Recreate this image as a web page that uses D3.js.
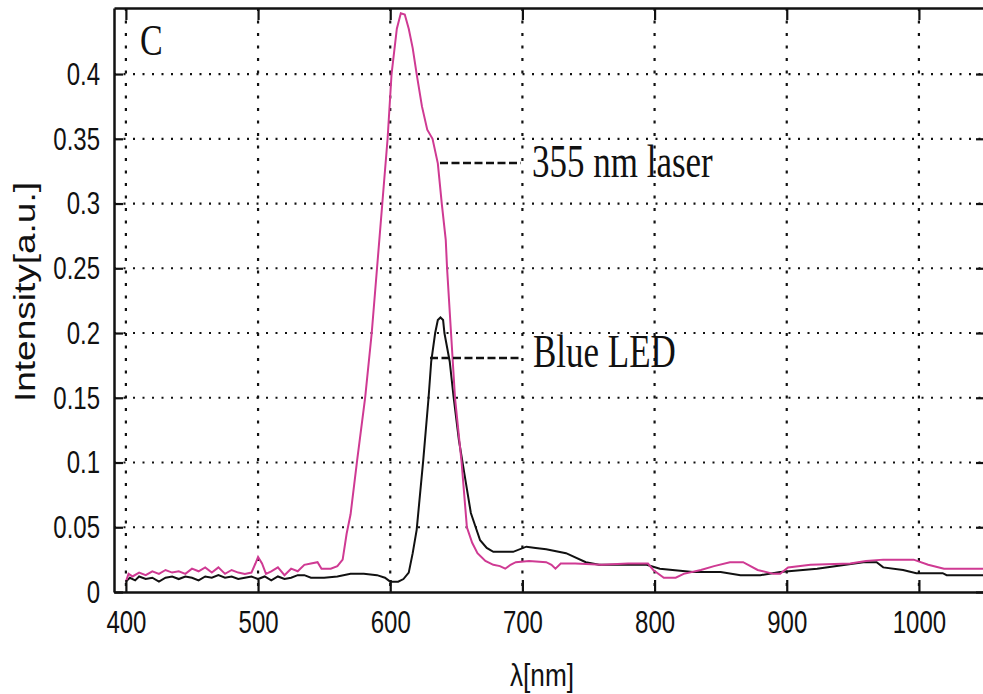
<!DOCTYPE html>
<html>
<head>
<meta charset="utf-8">
<script src="https://cdn.jsdelivr.net/npm/d3@7"></script>
<style>
  body { margin: 0; background: #fff; }
  svg { display: block; }
</style>
</head>
<body>
<svg id="drawspace" width="983" height="694"></svg>
<script>
// data (wavelength in nm, intensity in a.u.)
let laserWl = [400, 402, 405, 410, 415, 420, 425, 430, 435, 440, 445, 450, 455, 460, 465, 470, 475, 480, 485, 490, 495, 498, 500, 503, 506, 510, 515, 520, 525, 530, 535, 540, 545, 548, 555, 560, 564, 567, 570, 575, 581, 586, 590, 594, 598, 601, 605, 608, 611, 614, 617, 620, 624, 628, 632, 636, 639, 642, 643, 646, 649, 654, 658, 662, 666, 672, 678, 683, 687, 691, 695, 705, 718, 722, 725, 729, 740, 760, 780, 795, 799, 807, 816, 822, 835, 845, 857, 867, 878, 890, 895, 901, 918, 948, 960, 973, 996, 1007, 1019, 1050];
let laserInt = [0.008, 0.014, 0.012, 0.015, 0.013, 0.016, 0.014, 0.017, 0.015, 0.016, 0.014, 0.018, 0.016, 0.019, 0.015, 0.019, 0.014, 0.017, 0.015, 0.014, 0.015, 0.022, 0.027, 0.022, 0.014, 0.016, 0.019, 0.013, 0.018, 0.016, 0.021, 0.022, 0.023, 0.018, 0.018, 0.020, 0.025, 0.045, 0.060, 0.102, 0.150, 0.200, 0.250, 0.300, 0.350, 0.400, 0.435, 0.447, 0.446, 0.435, 0.420, 0.400, 0.375, 0.357, 0.350, 0.331, 0.300, 0.272, 0.250, 0.200, 0.150, 0.100, 0.050, 0.038, 0.030, 0.024, 0.021, 0.020, 0.018, 0.021, 0.023, 0.024, 0.023, 0.021, 0.018, 0.022, 0.022, 0.021, 0.022, 0.022, 0.017, 0.011, 0.011, 0.014, 0.017, 0.020, 0.023, 0.023, 0.017, 0.014, 0.014, 0.019, 0.021, 0.022, 0.024, 0.025, 0.025, 0.021, 0.018, 0.018];

let ledWl = [400, 403, 407, 410, 415, 420, 425, 430, 435, 440, 445, 450, 455, 460, 465, 470, 475, 480, 485, 490, 495, 500, 505, 510, 515, 520, 525, 530, 535, 540, 550, 560, 570, 580, 590, 596, 600, 606, 610, 614, 617, 620, 625, 629, 631, 634, 636, 638, 640, 641, 645, 648, 652, 656, 661, 668, 673, 678, 693, 703, 710, 718, 733, 748, 758, 794, 804, 829, 850, 865, 880, 895, 923, 958, 968, 973, 988, 998, 1018, 1021, 1050];
let ledInt = [0.008, 0.011, 0.009, 0.012, 0.010, 0.011, 0.008, 0.011, 0.012, 0.010, 0.012, 0.011, 0.009, 0.012, 0.011, 0.013, 0.011, 0.012, 0.010, 0.011, 0.012, 0.010, 0.012, 0.009, 0.012, 0.010, 0.011, 0.013, 0.013, 0.011, 0.011, 0.012, 0.014, 0.014, 0.013, 0.011, 0.008, 0.008, 0.010, 0.015, 0.030, 0.048, 0.102, 0.150, 0.178, 0.200, 0.210, 0.212, 0.210, 0.200, 0.178, 0.150, 0.117, 0.092, 0.061, 0.040, 0.034, 0.031, 0.031, 0.035, 0.034, 0.033, 0.030, 0.023, 0.021, 0.021, 0.018, 0.0155, 0.0155, 0.013, 0.013, 0.0155, 0.018, 0.023, 0.023, 0.019, 0.017, 0.0145, 0.0145, 0.013, 0.013];

let xTicks = [400, 500, 600, 700, 800, 900, 1000];
let xTickLabels = ["400", "500", "600", "700", "800", "900", "1000"];
let yTicks = [0, 0.05, 0.1, 0.15, 0.2, 0.25, 0.3, 0.35, 0.4];
let yTickLabels = ["0", "0.05", "0.1", "0.15", "0.2", "0.25", "0.3", "0.35", "0.4"];

let drawSpace = d3.select("#drawspace");

let plotL = 114, plotR = 985, plotT = 8, plotB = 592;

let x = d3.scaleLinear().domain([391, 1050]).range([plotL, plotR]);
let y = d3.scaleLinear().domain([0, 0.451]).range([plotB, plotT]);

// dotted grid
drawSpace.append("g")
  .selectAll("line")
  .data(yTicks.filter(d => d > 0))
  .enter()
  .append("line")
  .attr("x1", plotL).attr("x2", plotR)
  .attr("y1", d => y(d)).attr("y2", d => y(d))
  .attr("stroke", "#111")
  .attr("stroke-width", 2.2)
  .attr("stroke-dasharray", "2,7.5");

drawSpace.append("g")
  .selectAll("line")
  .data(xTicks)
  .enter()
  .append("line")
  .attr("x1", d => x(d)).attr("x2", d => x(d))
  .attr("y1", plotT).attr("y2", plotB)
  .attr("stroke", "#111")
  .attr("stroke-width", 2.2)
  .attr("stroke-dasharray", "3,9.5");

// curves
let line = d3.line()
  .x(d => x(d[0]))
  .y(d => y(d[1]));

drawSpace.append("path")
  .datum(ledWl.map((w, i) => [w, ledInt[i]]))
  .attr("d", line)
  .attr("fill", "none")
  .attr("stroke", "#111")
  .attr("stroke-width", 2);

drawSpace.append("path")
  .datum(laserWl.map((w, i) => [w, laserInt[i]]))
  .attr("d", line)
  .attr("fill", "none")
  .attr("stroke", "#cf3a93")
  .attr("stroke-width", 2);

// axes
let fontSans = "'Liberation Sans', Arial, sans-serif";
let fontSerif = "'Liberation Serif', 'Times New Roman', serif";

let xAxis = drawSpace.append("g")
  .attr("transform", "translate(0," + plotB + ")")
  .call(d3.axisBottom(x).tickValues(xTicks).tickFormat((d, i) => xTickLabels[i])
    .tickSizeInner(-12).tickSizeOuter(0).tickPadding(18));

let yAxis = drawSpace.append("g")
  .attr("transform", "translate(" + plotL + ",0)")
  .call(d3.axisLeft(y).tickValues(yTicks).tickFormat((d, i) => yTickLabels[i])
    .tickSizeInner(-9).tickSizeOuter(0).tickPadding(18.7));

let xTop = drawSpace.append("g")
  .attr("transform", "translate(0," + plotT + ")")
  .call(d3.axisTop(x).tickValues(xTicks).tickSizeInner(-12).tickSizeOuter(0).tickFormat(""));

let yRight = drawSpace.append("g")
  .attr("transform", "translate(" + plotR + ",0)")
  .call(d3.axisRight(y).tickValues(yTicks).tickSizeInner(-9).tickSizeOuter(0).tickFormat(""));

for (let ax of [xAxis, yAxis, xTop, yRight]) {
  ax.select(".domain").attr("stroke", "#111").attr("stroke-width", 2.5);
  ax.selectAll(".tick line").attr("stroke", "#111").attr("stroke-width", 2.2);
  ax.selectAll(".tick text")
    .attr("fill", "#111")
    .style("font-family", fontSans)
    .style("font-size", "32px")
    .attr("transform", "scale(0.75,1)");
}

// axis titles
drawSpace.append("text")
  .attr("transform", "translate(542,686) scale(0.82,1)")
  .attr("text-anchor", "middle")
  .style("font-family", fontSans)
  .style("font-size", "32px")
  .attr("fill", "#111")
  .text("λ[nm]");

drawSpace.append("text")
  .attr("transform", "translate(35,292) rotate(-90)")
  .attr("text-anchor", "middle")
  .attr("textLength", 220)
  .attr("lengthAdjust", "spacingAndGlyphs")
  .style("font-family", fontSans)
  .style("font-size", "30px")
  .attr("fill", "#111")
  .text("Intensity[a.u.]");

// panel letter and annotations
drawSpace.append("text")
  .attr("transform", "translate(140,55) scale(1,1.33)")
  .style("font-family", fontSerif)
  .style("font-size", "34px")
  .attr("fill", "#111")
  .text("C");

let notes = [
  { label: "355 nm laser", x1: 440, x2: 521, ly: 163, tx: 532, ty: 177 },
  { label: "Blue LED", x1: 430, x2: 521, ly: 358, tx: 533, ty: 367 }
];

drawSpace.selectAll(".leader")
  .data(notes)
  .enter()
  .append("line")
  .attr("class", "leader")
  .attr("x1", d => d.x1).attr("x2", d => d.x2)
  .attr("y1", d => d.ly).attr("y2", d => d.ly)
  .attr("stroke", "#111")
  .attr("stroke-width", 2.5)
  .attr("stroke-dasharray", "8,3.5");

drawSpace.selectAll(".note")
  .data(notes)
  .enter()
  .append("text")
  .attr("class", "note")
  .attr("transform", d => "translate(" + d.tx + "," + d.ty + ") scale(1,1.33)")
  .style("font-family", fontSerif)
  .style("font-size", "35px")
  .attr("fill", "#111")
  .text(d => d.label);
</script>
</body>
</html>
